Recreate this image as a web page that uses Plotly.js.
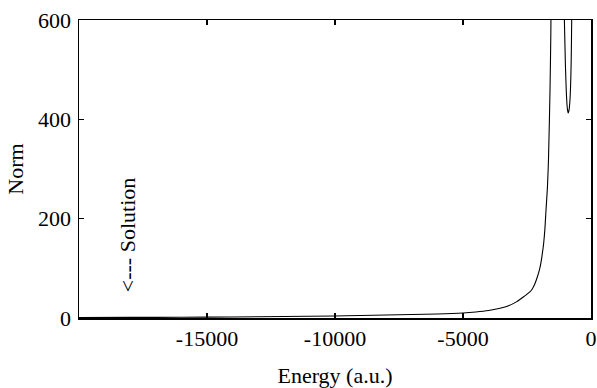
<!DOCTYPE html>
<html>
<head>
<meta charset="utf-8">
<script src="https://cdn.plot.ly/plotly-3.0.1.min.js"></script>
<style>html,body{margin:0;padding:0;background:#fff;}#chart{width:597px;height:388px;}</style>
</head>
<body>
<div id="chart"></div>
<script>
// Branch 1: rising toward first pole
var energyA = [-20000, -18000, -16000, -14000, -12000, -10000, -9000, -8000, -7000, -6000, -5000, -4500, -4000, -3600, -3200, -2900, -2600, -2400, -2300, -2200, -2100, -2000, -1950, -1900, -1850, -1800, -1760, -1700, -1660, -1600, -1570, -1550];
var normA   = [1, 1.2, 1.5, 2, 3, 4, 5, 6, 7, 8, 10, 12, 15, 19, 25, 33, 44, 52, 58, 68, 82, 100, 113, 130, 150, 180, 215, 265, 320, 463, 570, 680];
// Branch 2: between poles, dip near -890
var energyB = [-1080, -1040, -1000, -960, -920, -890, -860, -820, -790, -770, -754, -740];
var normB   = [700, 600, 510, 450, 420, 413, 418, 440, 480, 530, 600, 660];
var xTickVals = [-15000, -10000, -5000, 0];
var yTickVals = [0, 200, 400, 600];
var noteText = "&lt;--- Solution";
var noteX = -18100, noteY = 166;

var font = {family: "Liberation Serif", size: 22, color: "#000"};
var traces = [
  {x: energyA, y: normA, mode: "lines", line: {color: "#000", width: 1.1, shape: "spline", smoothing: 0.8}, hoverinfo: "skip"},
  {x: energyB, y: normB, mode: "lines", line: {color: "#000", width: 1.1, shape: "spline", smoothing: 0.5}, hoverinfo: "skip"}
];
var axisCommon = {showgrid: false, zeroline: false, showline: true, linecolor: "#000", linewidth: 1.5,
  mirror: "ticks", ticks: "inside", ticklen: 5, tickwidth: 1.2, tickcolor: "#000", tickfont: font};
var layout = {
  width: 597, height: 388,
  margin: {l: 79, r: 6, t: 20, b: 70},
  paper_bgcolor: "#fff", plot_bgcolor: "#fff",
  showlegend: false,
  font: font,
  xaxis: Object.assign({}, axisCommon, {range: [-20000, 0], tickvals: xTickVals, ticktext: xTickVals.map(String),
    title: {text: "Energy (a.u.)", font: font, standoff: 20}}),
  yaxis: Object.assign({}, axisCommon, {range: [0, 600], tickvals: yTickVals, ticktext: yTickVals.map(String),
    ticklabelstandoff: 2,
    title: {text: "Norm", font: font, standoff: 8}}),
  annotations: [{x: noteX, y: noteY, xref: "x", yref: "y", text: noteText, showarrow: false, textangle: -90,
    font: font}]
};
Plotly.newPlot("chart", traces, layout, {staticPlot: true, displayModeBar: false});
</script>
</body>
</html>
